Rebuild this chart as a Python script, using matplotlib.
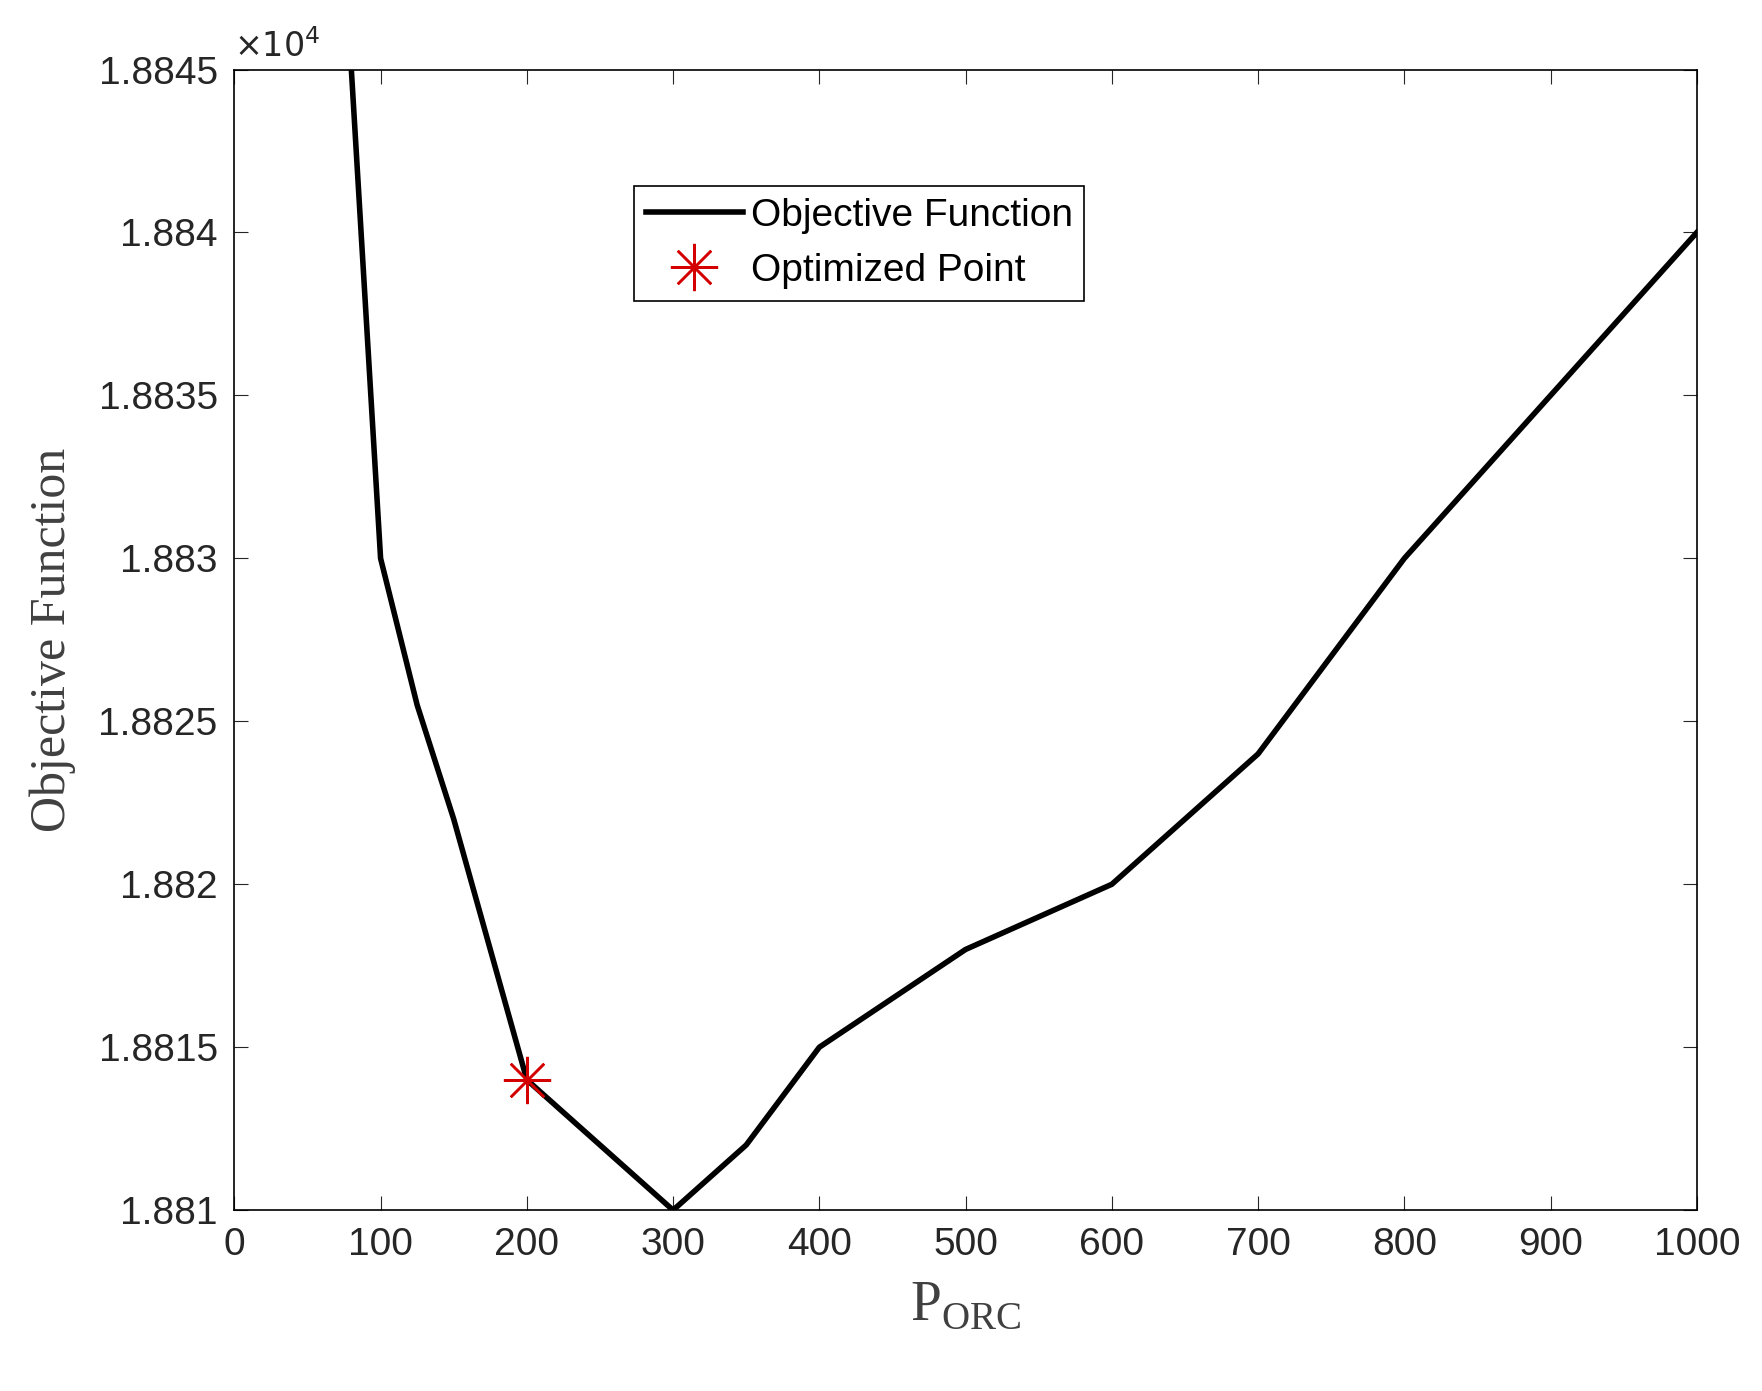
import matplotlib
matplotlib.use('Agg')
import matplotlib.pyplot as plt

# data
p_orc = [50, 100, 125, 150, 200, 300, 350, 400, 500, 600, 700, 800, 900, 1000]
obj_fun = [18867.5, 18830, 18825.5, 18822, 18814, 18810, 18812, 18815, 18818, 18820, 18824, 18830, 18835, 18840]
opt_x = [200]
opt_y = [18814]

plt.rcParams['font.family'] = 'Liberation Sans'

fig = plt.figure(figsize=(17.62, 13.91), dpi=100)
ax = fig.add_axes([0.133, 0.13, 0.83, 0.82])

ax.plot(p_orc, obj_fun, color='black', lw=4, label='Objective Function')
ax.plot(opt_x, opt_y, ls='none', marker=(8, 2, 0), color='#d40000', ms=34, mew=1.8, label='Optimized Point')

ax.set_xlim(0, 1000)
ax.set_ylim(18810, 18845)
ax.set_xticks(range(0, 1001, 100))
ax.set_yticks([18810, 18815, 18820, 18825, 18830, 18835, 18840, 18845])
ax.set_yticklabels(['1.881', '1.8815', '1.882', '1.8825', '1.883', '1.8835', '1.884', '1.8845'])
ax.tick_params(labelsize=28, direction='in', length=10, top=True, right=True, colors='#262626', pad=12)
for s in ax.spines.values():
    s.set_linewidth(1.2)
ax.text(0.0, 1.005, r'$\times10^4$', transform=ax.transAxes, fontsize=24, color='#262626', va='bottom')

ax.set_xlabel(r'P$_{\mathregular{ORC}}$', family='Liberation Serif', fontsize=40, color='#404040', labelpad=12)
ax.set_ylabel('Objective Function', family='Liberation Serif', fontsize=36, color='#404040', labelpad=16)

leg = ax.legend(loc='upper left', bbox_to_anchor=(0.26, 0.915), fontsize=28, fancybox=False,
                edgecolor='black', framealpha=1, handlelength=2.5, borderpad=0.3, labelspacing=0.5,
                handletextpad=0.2)
leg.get_frame().set_linewidth(1.2)

fig.savefig('out.png')
